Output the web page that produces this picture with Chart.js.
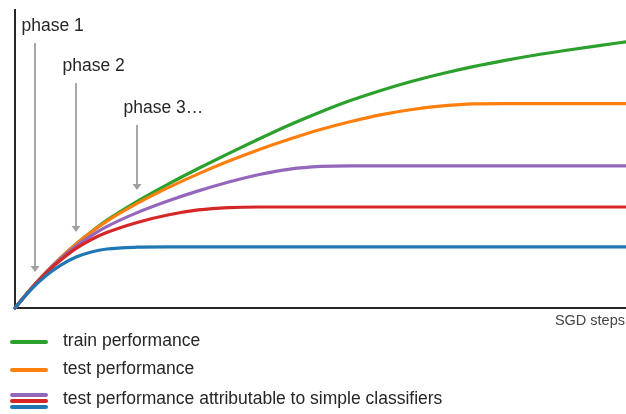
<!DOCTYPE html>
<html>
<head>
<meta charset="utf-8">
<script src="https://cdn.jsdelivr.net/npm/chart.js@4/dist/chart.umd.min.js"></script>
<style>
  html, body { margin: 0; padding: 0; background: #fff; }
  #wrap { position: relative; width: 626px; height: 414px; overflow: hidden;
          font-family: "Liberation Sans", Arial, sans-serif; color: #222; }
  #c { position: absolute; left: 0; top: 0; }
  .sw { position: absolute; left: 10px; width: 38px; height: 4px; border-radius: 2px; }
  .lt { position: absolute; left: 63px; font-size: 17.5px; line-height: 20px; white-space: nowrap; color: #262626; }
  #xt { position: absolute; right: 1px; top: 313px; font-size: 14.5px; line-height: 14.5px; color: #444; white-space: nowrap; }
</style>
</head>
<body>
<div id="wrap">
  <canvas id="c" width="626" height="414"></canvas>
  <div id="xt"></div>
  <div id="legend"></div>
</div>
<script>
// ---- data (steps 0..100, performance 0..100) ----
const steps = [0, 2.5, 5, 7.5, 10, 12.5, 15, 20, 25, 30, 35, 40, 45, 50, 55, 60, 65, 70, 75, 80, 85, 90, 95, 100];

const trainPerf  = [0, 6.2, 11.8, 16.9, 21.5, 25.6, 29.4, 35.8, 41.5, 46.8, 51.9, 56.8, 61.5, 65.8, 69.7, 73.1, 76.1, 78.7, 81.0, 83.0, 84.8, 86.4, 87.9, 89.3];
const testPerf   = [0, 6.2, 11.8, 16.9, 21.5, 25.5, 29.1, 35.1, 40.3, 45.0, 49.3, 53.2, 56.7, 59.9, 62.6, 64.9, 66.6, 67.8, 68.5, 68.6, 68.6, 68.6, 68.6, 68.6];
const phase3Perf = [0, 6.2, 11.7, 16.6, 20.8, 24.3, 27.3, 32.0, 35.9, 39.3, 42.3, 44.8, 46.6, 47.5, 47.7, 47.7, 47.7, 47.7, 47.7, 47.7, 47.7, 47.7, 47.7, 47.7];
const phase2Perf = [0, 6.1, 11.6, 16.1, 20.0, 23.0, 25.3, 28.7, 31.2, 32.9, 33.7, 33.9, 33.9, 33.9, 33.9, 33.9, 33.9, 33.9, 33.9, 33.9, 33.9, 33.9, 33.9, 33.9];
const phase1Perf = [0, 5.9, 10.7, 14.4, 17.1, 18.8, 19.8, 20.4, 20.5, 20.5, 20.5, 20.5, 20.5, 20.5, 20.5, 20.5, 20.5, 20.5, 20.5, 20.5, 20.5, 20.5, 20.5, 20.5];

const legendLabels = ['train performance', 'test performance', 'test performance attributable to simple classifiers'];
const xAxisLabel = 'SGD steps';

const phaseLabels = ['phase 1', 'phase 2', 'phase 3…'];
const phaseAt     = [3.3, 10.0, 20.0];   // step where each arrow points
const arrowFrom   = [88.9, 75.5, 61.4];  // arrow start (performance units)
const arrowTo     = [12.1, 25.5, 39.6];  // arrow tip (performance units)

const COLORS = { green: '#2ca02c', orange: '#ff7f0e', purple: '#9467bd', red: '#d62728', blue: '#1f77b4' };

function pts(xs, ys) { return xs.map((x, i) => ({ x: x, y: ys[i] })); }

function ds(label, ys, color, order) {
  return {
    label: label, data: pts(steps, ys), borderColor: color, backgroundColor: color,
    borderWidth: 3.2, pointRadius: 0, cubicInterpolationMode: 'monotone',
    borderCapStyle: 'round', fill: false, order: order, clip: 4
  };
}

const phasePlugin = {
  id: 'phases',
  beforeDatasetsDraw(chart) {
    const ctx = chart.ctx, xs = chart.scales.x, ys = chart.scales.y;
    ctx.save();
    for (let i = 0; i < phaseLabels.length; i++) {
      const px = Math.round(xs.getPixelForValue(phaseAt[i]));
      const y0 = ys.getPixelForValue(arrowFrom[i]);
      const y1 = ys.getPixelForValue(arrowTo[i]);
      ctx.strokeStyle = '#a8a8a8';
      ctx.fillStyle = '#a0a0a0';
      ctx.lineWidth = 2;
      ctx.beginPath();
      ctx.moveTo(px, y0);
      ctx.lineTo(px, y1 - 5);
      ctx.stroke();
      ctx.beginPath();
      ctx.moveTo(px - 4.5, y1 - 6);
      ctx.lineTo(px + 4.5, y1 - 6);
      ctx.lineTo(px, y1);
      ctx.closePath();
      ctx.fill();
      ctx.fillStyle = '#262626';
      ctx.font = '17.5px "Liberation Sans", Arial, sans-serif';
      ctx.textAlign = 'left';
      ctx.textBaseline = 'alphabetic';
      ctx.fillText(phaseLabels[i], px - 13.5, y0 - 12.5);
    }
    ctx.restore();
  }
};

new Chart(document.getElementById('c'), {
  type: 'line',
  data: {
    datasets: [
      ds(legendLabels[0], trainPerf, COLORS.green, 5),
      ds(legendLabels[1], testPerf, COLORS.orange, 4),
      ds(legendLabels[2], phase3Perf, COLORS.purple, 3),
      ds(legendLabels[2], phase2Perf, COLORS.red, 2),
      ds(legendLabels[2], phase1Perf, COLORS.blue, 1)
    ]
  },
  options: {
    responsive: false,
    devicePixelRatio: 1,
    animation: false,
    layout: { padding: { left: 15, top: 10, right: 0, bottom: 106 } },
    plugins: { legend: { display: false }, tooltip: { enabled: false } },
    scales: {
      x: {
        type: 'linear', min: 0, max: 100,
        ticks: { display: false }, grid: { display: false, drawTicks: false },
        border: { display: true, color: '#262626', width: 2 }
      },
      y: {
        type: 'linear', min: 0, max: 100,
        ticks: { display: false }, grid: { display: false, drawTicks: false },
        border: { display: true, color: '#262626', width: 2 }
      }
    }
  },
  plugins: [phasePlugin]
});

// ---- HTML legend and axis caption ----
document.getElementById('xt').textContent = xAxisLabel;
const leg = document.getElementById('legend');
function sw(top, color) {
  const d = document.createElement('div');
  d.className = 'sw'; d.style.top = top + 'px'; d.style.background = color;
  leg.appendChild(d);
}
function lt(top, text) {
  const d = document.createElement('div');
  d.className = 'lt'; d.style.top = top + 'px'; d.textContent = text;
  leg.appendChild(d);
}
sw(340, COLORS.green);  lt(330, legendLabels[0]);
sw(368, COLORS.orange); lt(358, legendLabels[1]);
sw(393, COLORS.purple); sw(399, COLORS.red); sw(405, COLORS.blue);
lt(388, legendLabels[2]);
</script>
</body>
</html>
